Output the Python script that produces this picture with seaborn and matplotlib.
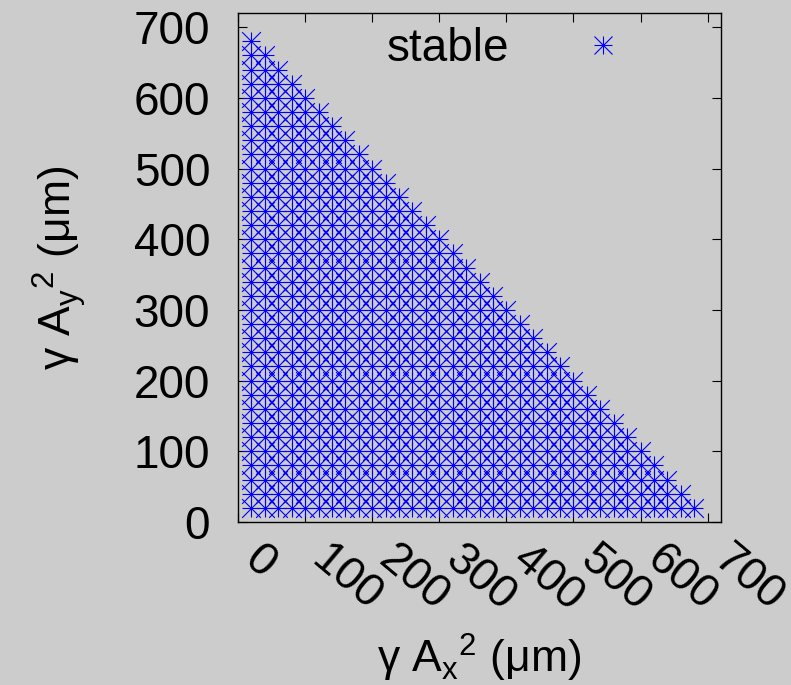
import matplotlib
matplotlib.use("Agg")
import matplotlib.pyplot as plt
import matplotlib.transforms as mtransforms
from matplotlib.lines import Line2D
from matplotlib.legend_handler import HandlerTuple
import seaborn as sns
import pandas as pd

# Grid of sampled amplitudes (gamma*A^2, in um)
grid_x = [20, 40, 60, 80, 100, 120, 140, 160, 180, 200, 220, 240, 260, 280, 300, 320, 340,
          360, 380, 400, 420, 440, 460, 480, 500, 520, 540, 560, 580, 600, 620, 640, 660, 680]
grid_y = [20, 40, 60, 80, 100, 120, 140, 160, 180, 200, 220, 240, 260, 280, 300, 320, 340,
          360, 380, 400, 420, 440, 460, 480, 500, 520, 540, 560, 580, 600, 620, 640, 660, 680]
# Largest stable gamma*Ax^2 found on each gamma*Ay^2 row
row_max_x = [680, 660, 640, 620, 600, 580, 560, 540, 520, 500, 480, 460, 440, 420, 400, 380, 360,
             340, 320, 300, 280, 260, 240, 220, 200, 180, 160, 140, 120, 100, 80, 60, 40, 20]

tick_values = [0, 100, 200, 300, 400, 500, 600, 700]
tick_labels = ["0", "100", "200", "300", "400", "500", "600", "700"]
series_name = "stable"

rows = []
for y, xmax in zip(grid_y, row_max_x):
    for x in grid_x:
        if x <= xmax:
            rows.append({"ax2": x, "ay2": y})
df = pd.DataFrame(rows)

bg = "#cccccc"
blue = "#0000ff"
sns.set_style("ticks", {"axes.facecolor": bg, "figure.facecolor": bg,
                        "axes.edgecolor": "black", "axes.labelcolor": "black",
                        "xtick.color": "black", "ytick.color": "black",
                        "text.color": "black"})
plt.rcParams["font.family"] = ["Liberation Sans", "DejaVu Sans"]
plt.rcParams["mathtext.fontset"] = "custom"
plt.rcParams["mathtext.rm"] = "Liberation Sans"

fig = plt.figure(figsize=(7.91, 6.85), dpi=100)
fig.patch.set_facecolor(bg)
ax = fig.add_axes([238 / 791, 1 - 522 / 685, 483 / 791, 509 / 685])
ax.set_facecolor(bg)

ms = 13.5  # marker size in points
for mk in ["+", "x"]:
    sns.scatterplot(data=df, x="ax2", y="ay2", marker=mk, s=ms ** 2, color=blue,
                    linewidth=0.8, ax=ax, legend=False, zorder=3)

ax.set_xlim(0, 720)
ax.set_ylim(0, 720)
ax.set_xticks(tick_values)
ax.set_yticks(tick_values)
ax.set_yticklabels(tick_labels)
ax.set_xticklabels(tick_labels, rotation=-40, ha="left", va="center",
                   rotation_mode="anchor")
ax.tick_params(direction="in", length=6.5, width=0.8, top=True, right=True,
               labelsize=33)
ax.tick_params(axis="y", pad=20)
ax.tick_params(axis="x", pad=23)
shift = mtransforms.ScaledTranslation(12 / 100, 0, fig.dpi_scale_trans)
for lab in ax.get_xticklabels():
    lab.set_transform(lab.get_transform() + shift)

for sp in ax.spines.values():
    sp.set_linewidth(1.0)
    sp.set_color("black")

label_kw = dict(fontsize=32)
ax.set_xlabel(r"γ A$_\mathregular{x}$$^\mathregular{2}$ (μm)", **label_kw)
ax.set_ylabel(r"γ A$_\mathregular{y}$$^\mathregular{2}$ (μm)", **label_kw)
ax.xaxis.set_label_coords(0.5, -0.216)
ax.yaxis.set_label_coords(-0.31, 0.5)

h_plus = Line2D([], [], marker="+", color=blue, linestyle="none", markersize=ms,
                markeredgewidth=0.8)
h_x = Line2D([], [], marker="x", color=blue, linestyle="none", markersize=ms,
             markeredgewidth=0.8)
ax.legend([(h_plus, h_x)], [series_name], handler_map={tuple: HandlerTuple(ndivide=1)},
          loc="center", bbox_to_anchor=(0.579, 0.93), frameon=False,
          markerfirst=False, handlelength=2.0, handletextpad=1.03, fontsize=33,
          borderpad=0.3)

fig.savefig("out.png", dpi=100, facecolor=bg)
